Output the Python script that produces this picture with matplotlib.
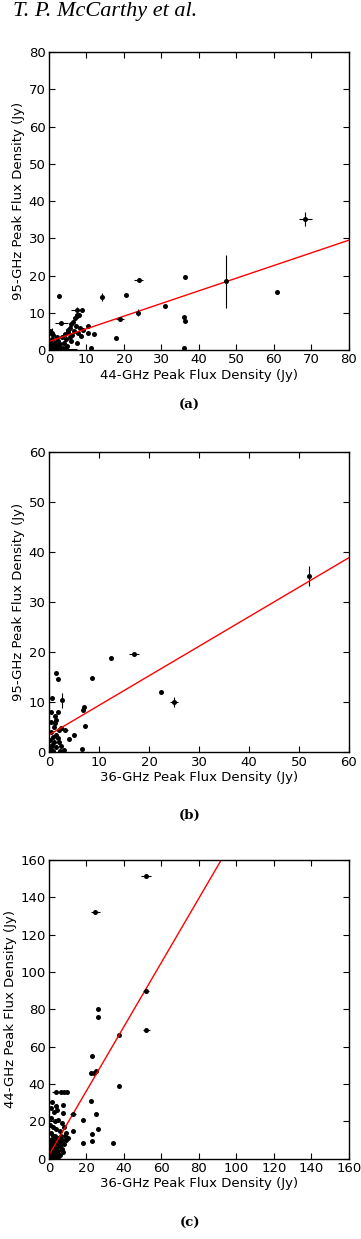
import matplotlib
matplotlib.use("Agg")
import matplotlib.pyplot as plt

# ---- panel (a): 44 GHz vs 95 GHz ----
a_x = [36.4, 60.7, 31.0, 35.9, 36.2, 35.9, 18.0, 20.5, 2.8, 11.1, 12.1, 10.5, 10.3, 8.7, 7.4,
       5.0, 5.5, 6.0, 6.5, 7.0, 7.5, 8.0, 7.2, 8.2, 6.8, 7.8, 6.2, 5.5, 8.5, 7.5, 6.0, 4.5,
       4.0, 3.5, 3.0, 2.5, 2.0, 1.5, 1.0, 0.5, 0.8, 1.2, 0.3, 1.8, 2.8, 3.8, 4.8, 0.5, 1.0,
       2.0, 3.0, 0.2, 0.6, 2.2, 4.2, 5.2, 9.0, 0.4, 1.5]
a_y = [19.5, 15.6, 11.8, 8.9, 7.8, 0.45, 3.3, 14.8, 14.5, 0.45, 4.3, 6.4, 4.6, 10.7, 9.5,
       5.5, 6.0, 7.0, 7.5, 8.5, 9.0, 9.5, 6.5, 6.0, 5.0, 4.5, 4.0, 3.5, 3.8, 2.0, 2.5, 3.0,
       2.0, 3.5, 1.5, 2.5, 1.0, 0.5, 1.5, 0.8, 3.0, 4.0, 2.0, 2.2, 0.8, 0.5, 1.2, 0.2, 0.3,
       0.2, 0.3, 5.0, 4.5, 3.5, 4.2, 4.8, 5.5, 1.0, 1.8]
a_ex = [68.4, 47.2, 23.9, 23.8, 18.9, 14.1, 3.3, 7.4, 0.8, 4.5]
a_ey = [35.2, 18.5, 18.8, 10.0, 8.3, 14.2, 7.2, 10.7, 4.5, 0.3]
a_xerr = [1.8, 0.0, 1.3, 0.3, 1.0, 0.3, 1.8, 1.5, 0.0, 3.0]
a_yerr = [1.9, 7.1, 0.3, 1.0, 0.2, 1.0, 0.2, 0.8, 1.5, 0.0]
a_fit = (0.34, 2.3)

# ---- panel (b): 36 GHz vs 95 GHz ----
b_x = [12.4, 8.7, 22.5, 1.5, 1.9, 0.7, 6.9, 7.1, 7.3, 5.1, 4.0, 6.7,
       0.5, 1.8, 1.2, 1.5, 2.0, 2.5, 1.0, 0.5, 0.8, 1.5, 0.3, 1.0, 2.0, 2.5, 1.5, 0.5,
       3.0, 0.2, 0.8, 2.2, 0.4, 1.2, 0.6, 1.8]
b_y = [18.8, 14.9, 12.0, 15.8, 14.6, 10.9, 8.5, 9.0, 5.2, 3.5, 2.7, 0.7,
       8.0, 8.0, 5.8, 6.5, 4.5, 4.8, 5.0, 4.0, 3.0, 3.5, 2.5, 2.0, 2.0, 1.2, 1.0, 1.0,
       0.5, 0.5, 0.3, 0.2, 6.0, 7.2, 1.5, 2.8]
b_ex = [52.0, 17.0, 25.1, 2.7, 3.2]
b_ey = [35.2, 19.6, 10.1, 10.4, 4.5]
b_xerr = [0.3, 1.0, 0.8, 0.2, 0.6]
b_yerr = [2.0, 0.3, 1.0, 1.5, 0.3]
b_fit = (0.59, 3.5)

# ---- panel (c): 36 GHz vs 44 GHz ----
c_x = [26.4, 26.4, 37.4, 23.2, 22.6, 24.2, 25.1, 37.6, 22.6, 25.1, 18.0, 26.4, 23.2, 12.7,
       18.0, 34.0, 23.2, 1.4, 3.7, 7.3, 7.3, 7.7,
       1, 3, 5, 7, 2, 4, 6, 8, 9, 1, 3, 5, 7, 9, 10, 2, 4, 6, 8, 1, 3, 5, 7, 0.5, 2, 4, 6,
       1, 3, 5, 0.5, 0.5, 2.5, 1.2, 4.5, 0.3, 2, 3.5, 6.5, 8.5, 1.5, 2.5, 0.8, 1.8, 4, 0.2,
       1.5, 3, 1, 2, 3, 4, 5, 6, 1.5, 2.5, 3.5, 4.5, 0.5, 1, 2, 3, 4, 5]
c_y = [80.2, 75.7, 66.3, 55.0, 46.0, 45.7, 47.0, 38.9, 31.1, 23.9, 20.7, 15.7, 13.0, 15.0,
       8.2, 8.2, 9.6, 30.5, 28.2, 29.0, 24.6, 3.8,
       22, 20, 21, 19, 17, 16, 15, 17, 14, 14, 12, 11, 10, 10, 11, 9, 8, 7, 8, 6, 5, 4, 5, 3,
       2, 1.5, 2, 0.5, 0.5, 0.8, 10, 18, 25, 27, 26, 8, 12, 7, 12, 12, 3, 4, 1.5, 6.5, 3, 0.2,
       0.2, 2.5, 8, 6, 9, 6, 7, 9, 10, 7, 10, 11, 5, 3, 4, 7, 4.5, 2]
c_ex = [51.9, 24.8, 51.9, 51.9, 6.3, 8.0, 9.4, 3.7, 12.7]
c_ey = [151.6, 132.1, 89.8, 68.8, 35.9, 35.9, 35.9, 35.9, 23.9]
c_xerr = [2.7, 2.5, 1.5, 2.0, 2.5, 1.5, 1.0, 2.0, 1.5]
c_yerr = [0.5, 0.5, 0.5, 0.5, 0.5, 0.3, 0.3, 0.0, 0.0]
c_fit = (1.72, 2.0)

panels = [
    dict(x=a_x, y=a_y, ex=a_ex, ey=a_ey, xerr=a_xerr, yerr=a_yerr, fit=a_fit, lim=80, step=10,
         xlabel="44-GHz Peak Flux Density (Jy)", ylabel="95-GHz Peak Flux Density (Jy)",
         tag="(a)", rect=[0.1357, 0.7175, 0.831, 0.2405], tag_y=1 - 405 / 1239),
    dict(x=b_x, y=b_y, ex=b_ex, ey=b_ey, xerr=b_xerr, yerr=b_yerr, fit=b_fit, lim=60, step=10,
         xlabel="36-GHz Peak Flux Density (Jy)", ylabel="95-GHz Peak Flux Density (Jy)",
         tag="(b)", rect=[0.1357, 0.3927, 0.831, 0.2425], tag_y=1 - 815 / 1239),
    dict(x=c_x, y=c_y, ex=c_ex, ey=c_ey, xerr=c_xerr, yerr=c_yerr, fit=c_fit, lim=160, step=20,
         xlabel="36-GHz Peak Flux Density (Jy)", ylabel="44-GHz Peak Flux Density (Jy)",
         tag="(c)", rect=[0.1357, 0.0648, 0.831, 0.2411], tag_y=1 - 1223 / 1239),
]

fig = plt.figure(figsize=(3.61, 12.39), dpi=100)
# running header; nudged down a little so that it is not clipped at the top edge
fig.text(0.037, 1 - 16 / 1239, "T. P. McCarthy et al.", family="Liberation Serif",
         style="italic", fontsize=16, va="baseline", ha="left")

for p in panels:
    ax = fig.add_axes(p["rect"])
    lim = p["lim"]
    ax.plot(p["x"], p["y"], "o", color="black", ms=3.6, mew=0)
    ax.errorbar(p["ex"], p["ey"], xerr=p["xerr"], yerr=p["yerr"], fmt="o", color="black",
                ms=3.6, mew=0, elinewidth=0.8, capsize=1.5, capthick=0.8)
    slope, icpt = p["fit"]
    ax.plot([0, lim], [icpt, icpt + slope * lim], color="red", lw=1.0)
    ax.set_xlim(0, lim)
    ax.set_ylim(0, lim)
    ticks = list(range(0, lim + 1, p["step"]))
    ax.set_xticks(ticks)
    ax.set_yticks(ticks)
    ax.tick_params(direction="in", top=True, right=True, length=4, width=0.8,
                   labelsize=9.5, pad=2.5)
    for s in ax.spines.values():
        s.set_linewidth(1.0)
    ax.set_xlabel(p["xlabel"], fontsize=9.5, labelpad=1.5)
    ax.set_ylabel(p["ylabel"], fontsize=9.5, labelpad=2.5)
    fig.text(0.525, p["tag_y"], p["tag"], family="DejaVu Serif", fontweight="bold",
             fontsize=9.5, ha="center", va="center")

fig.savefig("out.png", dpi=100)
